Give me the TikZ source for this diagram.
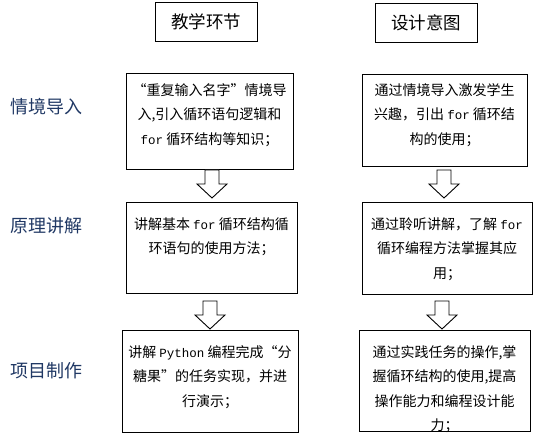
\documentclass[tikz,border=0pt]{standalone}
\usepackage{fontspec}
\setmainfont{Noto Sans CJK SC}
\newfontfamily\monof{Liberation Mono}
\usetikzlibrary{calc}
\newcommand\codew[1]{{\monof\fontsize{12.5}{24.5}\selectfont #1}}
\definecolor{labblue}{HTML}{203864}
\begin{document}
\begin{tikzpicture}[x=1pt,y=-1pt,
  box/.style={draw, line width=0.9pt, inner sep=0pt, outer sep=0pt},
  txt/.style={font=\fontsize{14}{24.5}\selectfont, align=center, inner sep=0pt, anchor=north},
  head/.style={draw, line width=0.9pt, inner sep=0pt, font=\fontsize{17.5}{20}\selectfont},
  lab/.style={font=\fontsize{18}{20}\selectfont, text=labblue, inner sep=0pt},
  barrow/.style={draw, line width=0.9pt, fill=white, line join=miter},
  blockarrow/.pic={\draw[barrow] (-7,0) -- (-7,14) -- (-15,14) -- (0,28) -- (15,14) -- (7,14) -- (7,0) -- cycle;}
]
\useasboundingbox (0,0) rectangle (541,435);

% headers
\node[head, minimum width=102, minimum height=39] (h1) at (206,21.5) {教学环节};
\node[head, minimum width=102, minimum height=39] (h2) at (426,22.5) {设计意图};

% side labels
\node[lab] (s1) at (46,107) {情境导入};
\node[lab] (s2) at (46,226) {原理讲解};
\node[lab] (s3) at (46,371) {项目制作};

% boxes
\node[box, minimum width=167, minimum height=96] (l1) at (209.5,121) {};
\node[box, minimum width=165, minimum height=92] (r1) at (444.5,120) {};
\node[box, minimum width=171, minimum height=91] (l2) at (211.5,247.5) {};
\node[box, minimum width=170, minimum height=92] (r2) at (447,248) {};
\node[box, minimum width=176, minimum height=102] (l3) at (210,381) {};
\node[box, minimum width=171, minimum height=101] (r3) at (444.5,380.5) {};

% texts
\node[txt] (l1t) at ($(l1.north)+(0,10.4)$) {“重复输入名字”情境导\\入,引入循环语句逻辑和\\\codew{for} 循环结构等知识；};
\node[txt] (r1t) at ($(r1.north)+(0,9.4)$) {通过情境导入激发学生\\兴趣，引出 \codew{for} 循环结\\构的使用；};
\node[txt] (l2t) at ($(l2.north)+(0,15.4)$) {讲解基本 \codew{for} 循环结构循\\环语句的使用方法；};
\node[txt] (r2t) at ($(r2.north)+(0,15.4)$) {通过聆听讲解，了解 \codew{for}\\循环编程方法掌握其应\\用；};
\node[txt] (l3t) at ($(l3.north)+(0,15.4)$) {讲解 \codew{Python} 编程完成“分\\糖果”的任务实现，并进\\行演示；};
\node[txt] (r3t) at ($(r3.north)+(0,15.4)$) {通过实践任务的操作,掌\\握循环结构的使用,提高\\操作能力和编程设计能\\力；};

% block arrows
\pic at ($(l1.south)+(2.5,1)$) {blockarrow};
\pic at ($(r1.south)+(-0.5,4)$) {blockarrow};
\pic at ($(l2.south)+(-1.5,8)$) {blockarrow};
\pic at ($(r2.south)+(-5,7)$) {blockarrow};
\end{tikzpicture}
\end{document}
